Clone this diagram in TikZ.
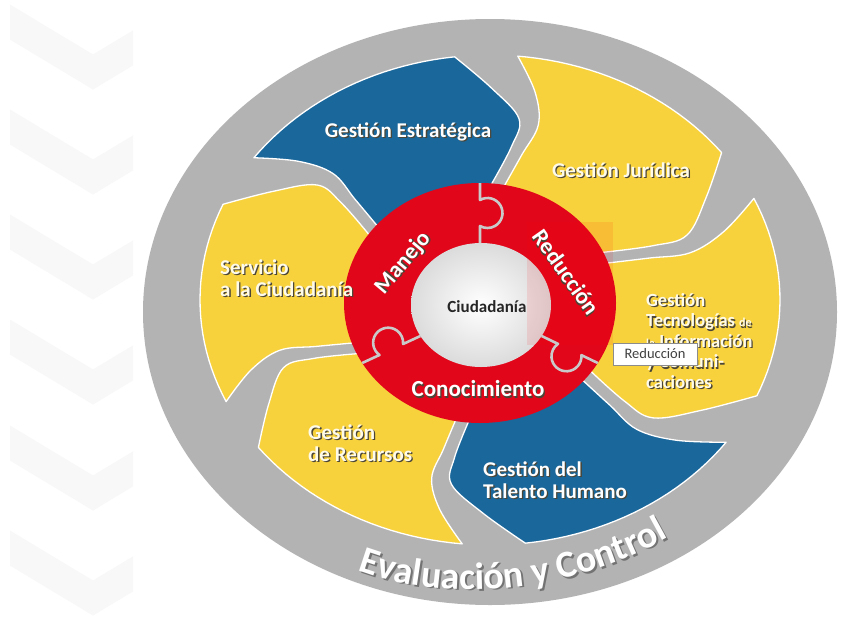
\documentclass[tikz,border=0pt]{standalone}
\usepackage{fontspec}
\setmainfont{Carlito}
\usetikzlibrary{decorations.text}
\definecolor{cgray}{HTML}{B3B3B3}
\definecolor{cyel}{HTML}{F8D23C}
\definecolor{cblue}{HTML}{1A679B}
\definecolor{cred}{HTML}{E2061A}
\definecolor{cream}{HTML}{FFFBEA}
\definecolor{shad}{HTML}{4A4536}
\definecolor{chevc}{HTML}{F8F8F8}
\definecolor{seamc}{HTML}{C9C9C9}

\makeatletter
\pgfkeys{/blcs/.cd,a/.store in=\blcs@a,t/.store in=\blcs@t}
\tikzdeclarecoordinatesystem{bl}{%
  \pgfkeys{/blcs/.cd,a=0,t=0,#1}%
  \pgfmathsetmacro\blcs@x{480+136*cos(\blcs@a)+(\blcs@t)*(10+154*cos(\blcs@a))}%
  \pgfmathsetmacro\blcs@y{303+120*sin(\blcs@a)+(\blcs@t)*(-3+125*sin(\blcs@a))}%
  \pgfpointxy{\blcs@x}{\blcs@y}}
\makeatother

\newcommand\blade[2]{%
  \pgfmathsetmacro\bladeS{#1-47.5}%
  \filldraw[#2] (bl cs:a=#1-42.5,t=-0.2)
   -- plot[smooth,tension=0.6] coordinates {(bl cs:a=#1-42.5,t=0) (bl cs:a=#1-40,t=0.25) (bl cs:a=#1-38.5,t=0.5) (bl cs:a=#1-42,t=0.74) (bl cs:a=#1-47.5,t=1)}
   -- plot[domain=\bladeS:#1,samples=24,variable=\q] (bl cs:a=\q,t=1)
   -- plot[smooth,tension=0.6] coordinates {(bl cs:a=#1,t=1) (bl cs:a=#1+8,t=0.74) (bl cs:a=#1+16,t=0.52) (bl cs:a=#1+16,t=0.3) (bl cs:a=#1+12,t=0)}
   -- (bl cs:a=#1+12,t=-0.2) -- cycle;}

\newcommand\lbl[4]{%
  \node[#3,text=shad,xshift=1.3pt,yshift=-1.3pt] (#1s) at (#2) {#4};
  \node[#3] (#1) at (#2) {#4};}

\newcommand\seamknob[4]{% mid x, mid y, rotate, half length
  \begin{scope}[shift={(#1,#2)},rotate=#3]
    \draw[seam] (-#4,0) -- (-13,0) arc[start angle=150,end angle=390,radius=15] -- (#4,0);
  \end{scope}}

\begin{document}
\begin{tikzpicture}[x=1pt,y=-1pt,
  bladetxt/.style={font=\fontsize{21}{22}\selectfont\bfseries,text=cream,align=left,inner sep=0pt},
  ringtxt/.style={font=\fontsize{23}{24}\selectfont\bfseries,text=white,inner sep=0pt},
  seam/.style={draw=seamc,line width=2.6pt,line join=round},
  yblade/.style={fill=cyel,draw=white,line width=1.3pt,line join=round},
  bblade/.style={fill=cblue,draw=white,line width=1.3pt,line join=round}]
\useasboundingbox (0,0) rectangle (841,619);
\fill[white] (0,0) rectangle (841,619);

% faint chevrons
\begin{scope}
  \clip (10,0) rectangle (133,619);
  \foreach \A in {72,177,282,387,493,598}
    \draw[chevc,line width=30pt] (-20,\A-68) -- (93,\A) -- (206,\A-68);
\end{scope}

% outer gray ellipse
\fill[cgray] (490,312) ellipse[x radius=347,y radius=293];

% blades
\blade{203}{yblade}
\blade{263}{bblade}
\blade{323}{yblade}
\blade{23}{yblade}
\blade{83}{bblade}
\blade{143}{yblade}

% red ring and centre
\fill[cred] (480,303) ellipse[x radius=136,y radius=120];
\shade[inner color=white,outer color=black!14] (481,305) ellipse[x radius=70,y radius=62];
\fill[red,opacity=0.1] (527,222) rectangle (613,345);

% puzzle seams
\seamknob{480}{213}{-90}{30}
\seamknob{569.7}{349.5}{-205.7}{31.2}
\seamknob{391.3}{349.5}{24.9}{32.1}

% ring labels
\lbl{manejo}{403,263}{ringtxt,rotate=50}{Manejo}
\lbl{reduc}{566,272}{ringtxt,rotate=-55}{Reducción}
\lbl{conoc}{478,389}{ringtxt}{Conocimiento}
\node[font=\fontsize{17}{18}\selectfont\bfseries,text=black!85,inner sep=0pt] (ciud) at (487,307) {Ciudadanía};

% blade labels
\lbl{estr}{408,132}{bladetxt,text=white}{Gestión Estratégica}
\lbl{jur}{621,170}{bladetxt}{Gestión Jurídica}
\lbl{serv}{220,278}{bladetxt,anchor=west}{Servicio\\a la Ciudadanía}
\lbl{tic}{646,341}{bladetxt,anchor=west,font=\fontsize{18.5}{20.5}\selectfont\bfseries}{Gestión\\Tecnologías {\fontsize{12}{12}\selectfont de}\\{\fontsize{12}{12}\selectfont la} Información\\y Comuni-\\caciones}
\lbl{tal}{483,480}{bladetxt,anchor=west,text=white}{Gestión del\\Talento Humano}
\lbl{rec}{308,443}{bladetxt,anchor=west}{Gestión\\de Recursos}

% arched title
\path[decorate,decoration={text along path,text align=center,text color=black!55,
  text={|\fontsize{38}{38}\selectfont\bfseries|Evaluación y Control}}]
  (339,563.5) .. controls (420,603.5) and (566,606.5) .. (690,527.5);
\path[decorate,decoration={text along path,text align=center,text color=white,
  text={|\fontsize{38}{38}\selectfont\bfseries|Evaluación y Control}}]
  (337,562) .. controls (418,602) and (564,605) .. (688,526);

% tooltip
\node[draw=black!45,fill=white,line width=0.6pt,minimum width=84pt,minimum height=22pt,
  inner sep=0pt,font=\fontsize{14.5}{15}\selectfont,text=black!75] (tip) at (655,354) {Reducción};
\end{tikzpicture}
\end{document}
